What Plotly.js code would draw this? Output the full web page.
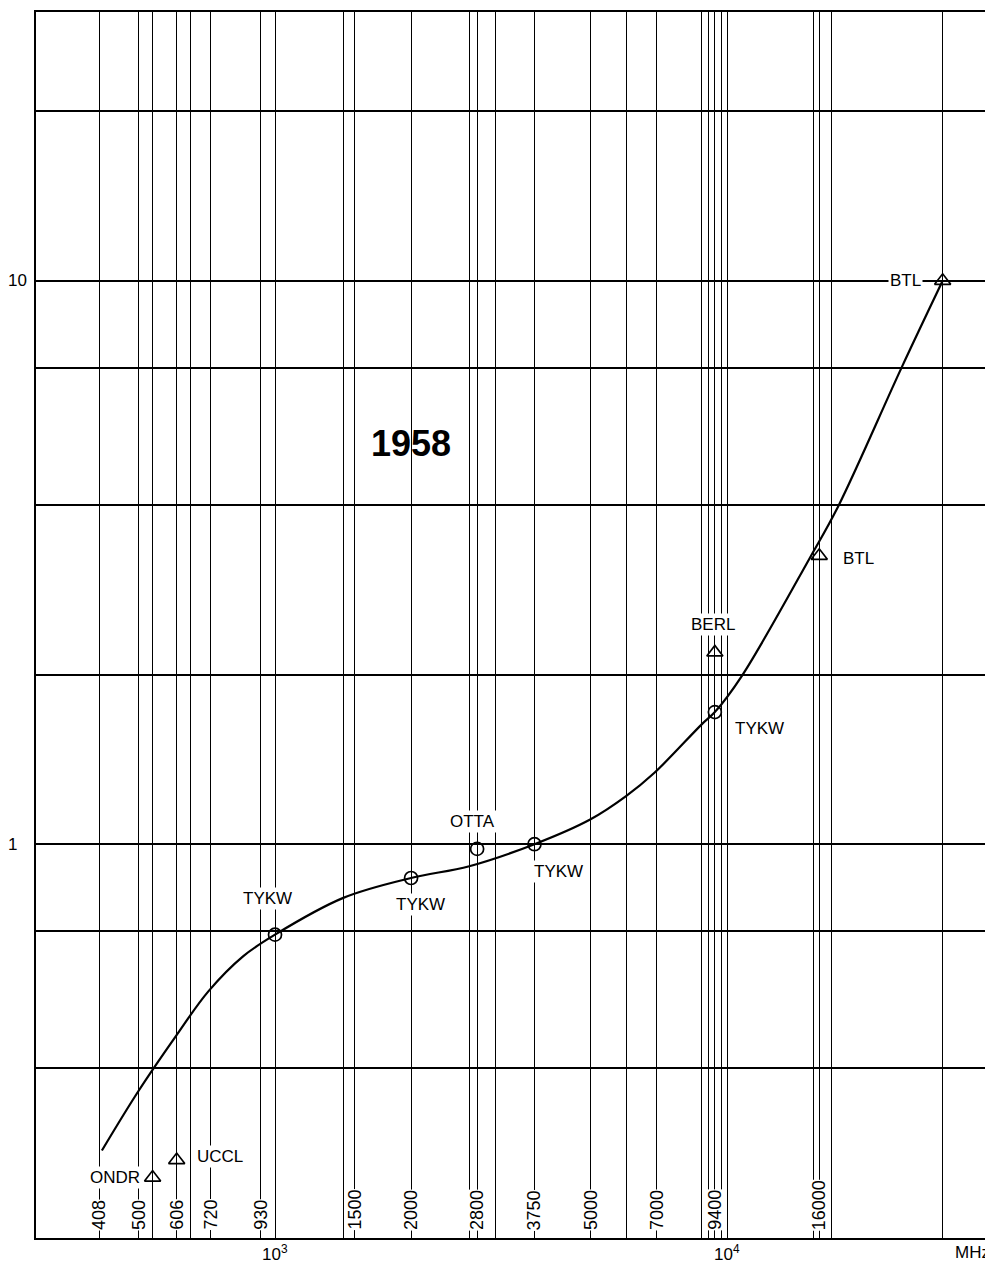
<!DOCTYPE html>
<html>
<head>
<meta charset="utf-8">
<script src="https://cdn.plot.ly/plotly-3.0.1.min.js"></script>
<style>
  html, body { margin: 0; padding: 0; background: #ffffff; overflow: hidden; }
  #chart { width: 985px; height: 1263px; }
</style>
</head>
<body>
<div id="chart"></div>
<script>
// Observing frequencies (MHz) drawn as vertical rules
const gridFreqs = [408, 500, 536, 606, 650, 720, 930, 1000, 1420, 1500, 2000, 2700, 2800,
                   3080, 3750, 5000, 6000, 7000, 8800, 9100, 9400, 9700, 10000,
                   15500, 16000, 17000, 30000];
// Rules that carry a frequency label at the foot of the chart
const labeledFreqs = [408, 500, 606, 720, 930, 1500, 2000, 2800, 3750, 5000, 7000, 9400, 16000];
// Decade labels on the frequency axis
const decadeFreqs = [1000, 10000];
const decadeLabels = ['10<sup>3</sup>', '10<sup>4</sup>'];
// Horizontal rules (relative flux)
const fluxGrid = [0.4, 0.7, 1, 2, 4, 7, 10, 20];
const fluxLabeled = [1, 10];
const fluxLabels = ['1', '10'];

// Smooth spectrum curve
const curveFreq = [414, 498, 603, 712, 851, 1000, 1416, 2000, 2690, 3750,
                   4980, 5980, 6910, 8790, 9400, 10780, 15260, 17640, 24350, 30000];
const curveVal  = [0.286, 0.364, 0.456, 0.548, 0.633, 0.691, 0.803, 0.871, 0.914, 1.0,
                   1.106, 1.217, 1.339, 1.632, 1.716, 1.988, 3.225, 3.985, 7.02, 10.0];

// Stations plotted with circles
const circleNames = ['TYKW', 'TYKW', 'OTTA', 'TYKW', 'TYKW'];
const circleFreq  = [1000, 2000, 2800, 3750, 9400];
const circleVal   = [0.691, 0.871, 0.981, 1.0, 1.716];

// Stations plotted with triangles
const triNames = ['ONDR', 'UCCL', 'BERL', 'BTL', 'BTL'];
const triFreq  = [536, 606, 9400, 16000, 30000];
const triVal   = [0.256, 0.275, 2.19, 3.25, 10.0];

const yearText = '1958';
const unitText = 'MHz';

// Label offsets in pixels from each station point
const circleOffsets = [[-8, 36], [9, -26], [-5, 27], [24, -27], [45, -16]];
const triOffsets    = [[-38, 0], [43, 4], [-2, 28], [39, -3], [-37, 0]];

const FONT = 'Liberation Sans, Arial, sans-serif';
const INK = '#000000';
const lg = Math.log10;

const traces = [
  {
    x: curveFreq, y: curveVal, type: 'scatter', mode: 'lines',
    line: { color: INK, width: 2.2, shape: 'spline', smoothing: 1 },
    hoverinfo: 'skip'
  },
  {
    x: circleFreq, y: circleVal, type: 'scatter', mode: 'markers',
    marker: { symbol: 'circle-open', size: 13, color: INK, line: { width: 1.7, color: INK } },
    hoverinfo: 'skip'
  },
  {
    x: triFreq, y: triVal, type: 'scatter', mode: 'markers',
    marker: { symbol: 'triangle-up-open', size: 14, color: INK, line: { width: 1.7, color: INK } },
    hoverinfo: 'skip'
  }
];

const yMin = 0.2, yMax = 30;
const annotations = [];

// Frequency labels written up the rules, near the bottom edge
labeledFreqs.forEach(f => {
  annotations.push({
    x: lg(f), y: lg(yMin), xref: 'x', yref: 'y',
    text: String(f), showarrow: false, textangle: -90,
    xanchor: 'center', yanchor: 'bottom', yshift: 7,
    bgcolor: '#ffffff', borderpad: 0,
    font: { family: FONT, size: 18, color: INK }
  });
});

// Decade labels below the frequency axis
decadeFreqs.forEach((f, i) => {
  annotations.push({
    x: lg(f), y: 0, xref: 'x', yref: 'paper',
    text: decadeLabels[i], showarrow: false,
    xanchor: 'center', yanchor: 'top', yshift: -2,
    font: { family: FONT, size: 17, color: INK }
  });
});

// Station labels
circleNames.forEach((name, i) => {
  annotations.push({
    x: lg(circleFreq[i]), y: lg(circleVal[i]), xref: 'x', yref: 'y',
    text: name, showarrow: false,
    xshift: circleOffsets[i][0], yshift: circleOffsets[i][1],
    bgcolor: '#ffffff', borderpad: 1,
    font: { family: FONT, size: 17, color: INK }
  });
});
triNames.forEach((name, i) => {
  annotations.push({
    x: lg(triFreq[i]), y: lg(triVal[i]), xref: 'x', yref: 'y',
    text: name, showarrow: false,
    xshift: triOffsets[i][0], yshift: triOffsets[i][1],
    bgcolor: '#ffffff', borderpad: 1,
    font: { family: FONT, size: 17, color: INK }
  });
});

// Flux labels at the left edge
fluxLabeled.forEach((v, i) => {
  annotations.push({
    x: 0, y: lg(v), xref: 'paper', yref: 'y',
    text: fluxLabels[i], showarrow: false,
    xanchor: 'right', xshift: i === 0 ? -17 : -7,
    font: { family: FONT, size: 17, color: INK }
  });
});

// Year caption
annotations.push({
  x: lg(2000), y: lg(4.85), xref: 'x', yref: 'y',
  text: '<b>' + yearText + '</b>', showarrow: false, yshift: 14,
  font: { family: FONT, size: 36, color: INK }
});

// Unit at the end of the frequency axis
annotations.push({
  x: 0.966, y: 0, xref: 'paper', yref: 'paper',
  text: unitText, showarrow: false,
  xanchor: 'left', yanchor: 'top', yshift: -3,
  font: { family: FONT, size: 17, color: INK }
});

const layout = {
  width: 985, height: 1263,
  margin: { l: 36, r: 0, t: 12, b: 25 },
  paper_bgcolor: '#ffffff', plot_bgcolor: '#ffffff',
  showlegend: false,
  hovermode: false,
  xaxis: {
    type: 'log',
    range: [2.4712, 4.5708],
    tickmode: 'array',
    tickvals: gridFreqs,
    showticklabels: false,
    ticks: '',
    showgrid: true, gridcolor: INK, gridwidth: 1.4,
    zeroline: false,
    showline: true, linecolor: INK, linewidth: 2, mirror: true,
    fixedrange: true
  },
  yaxis: {
    type: 'log',
    range: [lg(yMin), lg(yMax)],
    tickmode: 'array',
    tickvals: fluxGrid,
    showticklabels: false,
    ticks: '',
    showgrid: true, gridcolor: INK, gridwidth: 1.6,
    zeroline: false,
    showline: true, linecolor: INK, linewidth: 2, mirror: false,
    fixedrange: true
  },
  annotations: annotations
};

Plotly.newPlot('chart', traces, layout, { displayModeBar: false, responsive: false });
</script>
</body>
</html>
